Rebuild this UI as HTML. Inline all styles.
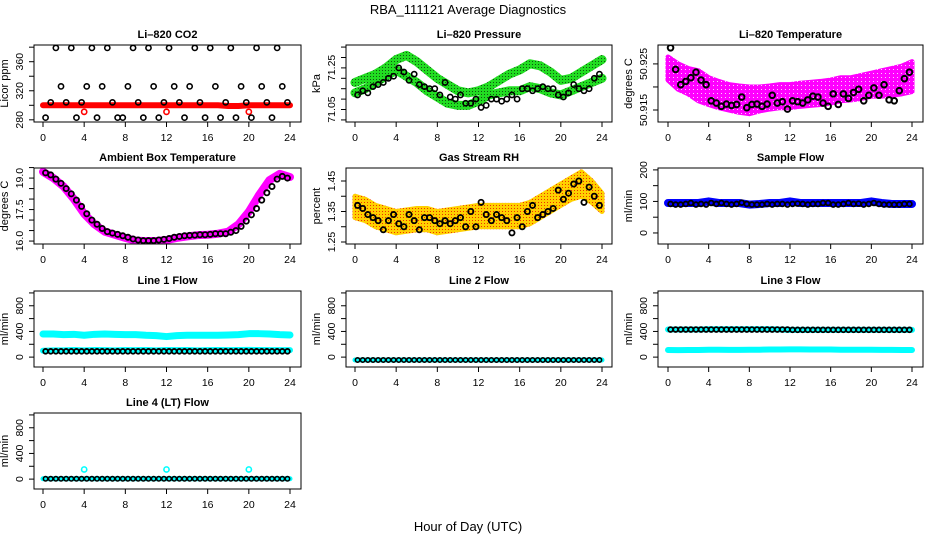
<!DOCTYPE html>
<html><head><meta charset="utf-8">
<style>
html,body{margin:0;padding:0;background:#fff;}
svg{display:block;font-family:"Liberation Sans",Arial,sans-serif;}
</style></head>
<body>
<svg id="chart" width="936" height="540" viewBox="0 0 936 540">
<defs>
<pattern id="pGreen" width="3" height="3" patternUnits="userSpaceOnUse"><rect width="3" height="3" fill="#22dd22"/><rect x="1" y="1" width="1" height="1" fill="#115511"/></pattern>
<pattern id="pOrange" width="3" height="3" patternUnits="userSpaceOnUse"><rect width="3" height="3" fill="#ffd000"/><rect x="1" y="1" width="1" height="1" fill="#ee3300"/></pattern>
<pattern id="pMag" width="4" height="4" patternUnits="userSpaceOnUse"><rect width="4" height="4" fill="#ff00ff"/><rect x="1" y="1" width="1" height="1" fill="#ffccff"/></pattern>
</defs>
<text x="468" y="14" text-anchor="middle" font-size="13">RBA_111121  Average Diagnostics</text>
<text x="468" y="531" text-anchor="middle" font-size="13">Hour of Day (UTC)</text>
</svg>
<script>
// ---------- data ----------
const hours = [0,1,2,3,4,5,6,7,8,9,10,11,12,13,14,15,16,17,18,19,20,21,22,23,24];
const halfHours = [0.25,0.75,1.25,1.75,2.25,2.75,3.25,3.75,4.25,4.75,5.25,5.75,6.25,6.75,7.25,7.75,8.25,8.75,9.25,9.75,10.25,10.75,11.25,11.75,12.25,12.75,13.25,13.75,14.25,14.75,15.25,15.75,16.25,16.75,17.25,17.75,18.25,18.75,19.25,19.75,20.25,20.75,21.25,21.75,22.25,22.75,23.25,23.75];
const xTicks = [0,4,8,12,16,20,24];

const co2Red = [300,300,300,300,300,300,300,300,300,300,300,300,300,300,300,300,300,300,299,299,300,300,300,300,300];
const co2RedOutHours = [4,12,20];
const co2RedOut = [291,291,291];
const co2Black = [283,304,379,326,304,379,283,304,326,379,283,326,379,304,283,283,326,379,304,283,379,326,283,304,379,326,304,283,326,379,304,283,379,326,283,304,379,283,326,304,283,379,326,304,283,379,326,304];

const presUpper = [71.18,71.2,71.22,71.25,71.29,71.31,71.28,71.24,71.2,71.17,71.14,71.13,71.14,71.16,71.19,71.22,71.24,71.27,71.26,71.23,71.19,71.2,71.23,71.26,71.29];
const presLower = [71.13,71.15,71.18,71.21,71.24,71.21,71.18,71.14,71.11,71.08,71.07,71.07,71.09,71.12,71.13,71.14,71.14,71.16,71.15,71.13,71.12,71.14,71.16,71.18,71.2];
const presBlack = [71.12,71.14,71.13,71.16,71.17,71.18,71.2,71.21,71.25,71.23,71.19,71.22,71.17,71.16,71.15,71.15,71.12,71.18,71.11,71.1,71.12,71.08,71.08,71.1,71.06,71.07,71.1,71.1,71.09,71.1,71.12,71.1,71.15,71.15,71.14,71.15,71.16,71.15,71.15,71.12,71.11,71.13,71.17,71.15,71.14,71.15,71.2,71.22];

const tempLo = [50.9215,50.9195,50.9185,50.917,50.9162,50.9155,50.915,50.9145,50.9142,50.9148,50.9152,50.9155,50.9155,50.9158,50.916,50.9162,50.9165,50.917,50.9172,50.9175,50.918,50.918,50.9182,50.9185,50.919];
const tempHi = [50.9265,50.925,50.924,50.9235,50.922,50.9212,50.9205,50.9202,50.92,50.92,50.9202,50.9205,50.9205,50.9208,50.921,50.9212,50.9215,50.922,50.922,50.9225,50.923,50.9235,50.924,50.9245,50.9255];
const tempBlack = [50.9285,50.9238,50.9205,50.9212,50.922,50.9232,50.9215,50.9205,50.917,50.9165,50.9158,50.9163,50.916,50.9162,50.9178,50.9155,50.9162,50.9163,50.9158,50.9163,50.9182,50.9165,50.9168,50.9152,50.917,50.9168,50.9165,50.9172,50.918,50.9178,50.9165,50.9158,50.9185,50.9162,50.9185,50.9175,50.9188,50.9195,50.917,50.9182,50.9198,50.9182,50.9205,50.9172,50.917,50.9192,50.9218,50.9232];

const ambBand = [19.3,19.0,18.6,18.0,17.3,16.8,16.45,16.3,16.15,16.02,16.0,16.0,16.05,16.15,16.22,16.28,16.3,16.35,16.45,16.8,17.4,18.2,18.9,19.2,19.05];
const ambBlack = [19.25,19.15,18.95,18.75,18.5,18.25,17.95,17.65,17.3,17.0,16.8,16.6,16.45,16.38,16.32,16.25,16.18,16.1,16.05,16.02,16.02,16.02,16.05,16.08,16.12,16.18,16.22,16.25,16.27,16.28,16.3,16.3,16.32,16.35,16.35,16.35,16.42,16.5,16.7,16.95,17.25,17.55,17.95,18.3,18.6,18.95,19.08,19.0];

const rhLo = [1.33,1.32,1.30,1.29,1.28,1.285,1.29,1.29,1.28,1.285,1.29,1.295,1.30,1.30,1.30,1.30,1.30,1.31,1.33,1.35,1.37,1.39,1.40,1.38,1.35];
const rhHi = [1.40,1.39,1.37,1.36,1.35,1.355,1.36,1.36,1.35,1.355,1.36,1.365,1.37,1.37,1.37,1.37,1.37,1.38,1.40,1.42,1.44,1.46,1.48,1.45,1.41];
const rhBlack = [1.37,1.36,1.34,1.33,1.32,1.29,1.32,1.34,1.31,1.3,1.34,1.32,1.29,1.33,1.33,1.32,1.31,1.32,1.31,1.32,1.33,1.3,1.35,1.3,1.38,1.34,1.32,1.34,1.33,1.32,1.28,1.33,1.3,1.35,1.37,1.33,1.34,1.35,1.36,1.42,1.39,1.41,1.44,1.45,1.38,1.43,1.4,1.37];

const sfBand = [95,95,95,95,100,95,95,95,90,92,95,95,100,95,95,95,95,95,95,95,100,95,92,92,92];
const sfBlack = [92,90,90,92,95,90,92,90,95,92,95,92,90,92,96,92,90,90,90,92,90,92,92,90,92,93,92,90,92,92,95,95,90,90,92,95,92,93,90,92,95,92,90,90,90,90,92,92];

const l1CyanHi = [360,360,350,355,340,355,360,355,350,350,340,335,320,335,340,340,340,340,345,350,365,365,360,350,345];
const l1CyanLo = [100,105,105,110,105,110,108,105,110,108,110,105,110,108,110,105,108,110,108,110,112,110,108,108,108];
const l1Black = [90,90,90,90,90,90,90,90,90,90,90,90,90,90,90,90,90,90,90,90,90,90,90,90,90,90,90,90,90,90,90,90,90,90,90,90,90,90,90,90,90,90,90,90,90,90,90,90];

const l2Cyan = [-45,-45,-45,-45,-45,-45,-45,-45,-45,-45,-45,-45,-45,-45,-45,-45,-45,-45,-45,-45,-45,-45,-45,-45,-45];
const l2Black = [-45,-45,-45,-45,-45,-45,-45,-45,-45,-45,-45,-45,-45,-45,-45,-45,-45,-45,-45,-45,-45,-45,-45,-45,-45,-45,-45,-45,-45,-45,-45,-45,-45,-45,-45,-45,-45,-45,-45,-45,-45,-45,-45,-45,-45,-45,-45,-45];

const l3CyanHi = [430,430,430,430,435,435,435,435,435,435,435,430,425,425,425,425,425,425,425,425,425,425,425,425,425];
const l3CyanLo = [110,108,110,110,115,115,112,112,115,115,118,118,120,120,118,118,118,115,115,115,115,112,112,110,110];
const l3Black = [430,430,430,430,430,430,430,430,430,430,430,430,430,430,430,430,430,430,430,430,430,430,430,430,425,425,425,425,425,425,425,425,425,425,425,425,425,425,425,425,425,425,425,425,425,425,425,425];

const l4Cyan = [5,5,5,5,5,5,5,5,5,5,5,5,5,5,5,5,5,5,5,5,5,5,5,5,5];
const l4SpikeHours = [4,12,20];
const l4Spike = [150,150,150];
const l4Black = [5,5,5,5,5,5,5,5,5,5,5,5,5,5,5,5,5,5,5,5,5,5,5,5,5,5,5,5,5,5,5,5,5,5,5,5,5,5,5,5,5,5,5,5,5,5,5,5];

// ---------- layout ----------
const NS = "http://www.w3.org/2000/svg";
const svg = document.getElementById('chart');
const cols = [{l:34,r:301,x0:43,x24:290},{l:346,r:612,x0:355,x24:602},{l:658,r:923,x0:668,x24:912}];
const rows = [{t:45,b:122},{t:168,b:244},{t:291,b:367},{t:413,b:489}];

function el(tag, attrs, parent){
  const e = document.createElementNS(NS, tag);
  for (const k in attrs) e.setAttribute(k, attrs[k]);
  (parent||svg).appendChild(e);
  return e;
}

function makePanel(slug, col, row, title, ylab, yMin, yMax, yTicks, yLabels){
  const c = cols[col], r = rows[row];
  const g = el('g', {});
  
  
  const sx = h => c.x0 + (h/24)*(c.x24 - c.x0);
  const sy = v => r.b - (v - yMin)/(yMax - yMin)*(r.b - r.t);
  const clip = el('clipPath', {id:'clip-'+slug}, g);
  el('rect', {x:c.l, y:r.t, width:c.r-c.l, height:r.b-r.t}, clip);
  const plot = el('g', {'clip-path':'url(#clip-'+slug+')'}, g);
  
  
  const box = el('rect', {x:c.l, y:r.t, width:c.r-c.l, height:r.b-r.t, fill:'none', stroke:'#000', 'stroke-width':1}, g);
  
  
  const t = el('text', {x:(c.l+c.r)/2, y:r.t-7, 'text-anchor':'middle', 'font-size':11, 'font-weight':'bold'}, g);
  t.textContent = title;
  
  
  const yl = el('text', {x:0, y:0, 'text-anchor':'middle', 'font-size':11, transform:'translate('+(c.l-26)+','+((r.t+r.b)/2)+') rotate(-90)'}, g);
  yl.textContent = ylab;
  
  
  const xa = el('g', {}, g);
  
  
  el('line', {x1:sx(0), x2:sx(24), y1:r.b, y2:r.b, stroke:'#000'}, xa);
  xTicks.forEach(h => {
    el('line', {x1:sx(h), x2:sx(h), y1:r.b, y2:r.b+5, stroke:'#000'}, xa);
    const tl = el('text', {x:sx(h), y:r.b+19, 'text-anchor':'middle', 'font-size':10.5}, xa);
    tl.textContent = h;
    
    
  });
  const ya = el('g', {}, g);
  
  
  el('line', {x1:c.l, x2:c.l, y1:sy(yTicks[0]), y2:sy(yTicks[yTicks.length-1]), stroke:'#000'}, ya);
  yTicks.forEach((v,i) => {
    el('line', {x1:c.l-5, x2:c.l, y1:sy(v), y2:sy(v), stroke:'#000'}, ya);
    if (yLabels[i] !== '') {
      const tl = el('text', {x:0, y:0, 'text-anchor':'middle', 'font-size':10.5, transform:'translate('+(c.l-11)+','+sy(v)+') rotate(-90)'}, ya);
      tl.textContent = yLabels[i];
      
      
    }
  });
  return {plot, sx, sy};
}

function band(p, xs, lo, hi, fill, name){
  let d = '';
  xs.forEach((h,i) => { d += (i ? 'L' : 'M') + p.sx(h) + ' ' + p.sy(hi[i]); });
  for (let i = xs.length-1; i >= 0; i--) d += 'L' + p.sx(xs[i]) + ' ' + p.sy(lo[i]);
  const e = el('path', {d: d+'Z', fill: fill, stroke: fill, 'stroke-width':5, 'stroke-linejoin':'round'}, p.plot);
  
  
}
function thickLine(p, xs, ys, color, w, name){
  const pts = xs.map((h,i) => p.sx(h) + ',' + p.sy(ys[i])).join(' ');
  const e = el('polyline', {points: pts, fill:'none', stroke: color, 'stroke-width': w, 'stroke-linejoin':'round', 'stroke-linecap':'round'}, p.plot);
  
  
}
function points(p, xs, ys, color, name, r, sw){
  const g = el('g', {}, p.plot);
  
  
  xs.forEach((h,i) => {
    const c = el('circle', {cx:p.sx(h), cy:p.sy(ys[i]), r:r||2.6, fill:'none', stroke:color, 'stroke-width':sw||1.6}, g);
    
    
  });
}

let p = makePanel('co2', 0, 0, 'Li\u2013820 CO2', 'Licor ppm', 277, 383, [280,300,320,340,360,380], ['280','','320','','360','']);
thickLine(p, hours, co2Red, '#ff0000', 6, 'co2-red-series');
points(p, co2RedOutHours, co2RedOut, '#ff0000', 'co2-red-outliers');
points(p, halfHours, co2Black, '#000', 'co2-black-series');

p = makePanel('pressure', 1, 0, 'Li\u2013820 Pressure', 'kPa', 70.99, 71.36, [71.0,71.05,71.1,71.15,71.2,71.25,71.3,71.35], ['','71.05','','','','71.25','','']);
thickLine(p, hours, presUpper, 'url(#pGreen)', 9, 'pressure-green-upper');
thickLine(p, hours, presLower, 'url(#pGreen)', 9, 'pressure-green-lower');
points(p, halfHours, presBlack, '#000', 'pressure-black-series');

p = makePanel('li820-temp', 2, 0, 'Li\u2013820 Temperature', 'degrees C', 50.9124, 50.9291, [50.915,50.92,50.925], ['50.915','','50.925']);
band(p, hours, tempLo, tempHi, 'url(#pMag)', 'li820-temp-magenta-band');
points(p, halfHours, tempBlack, '#000', 'li820-temp-black-series', 2.8, 2);

p = makePanel('ambient-temp', 0, 1, 'Ambient Box Temperature', 'degrees C', 15.86, 19.48, [16,16.5,17,17.5,18,18.5,19,19.5], ['16.0','','','17.5','','','19.0','']);
thickLine(p, hours, ambBand, '#ff00ff', 8, 'ambient-temp-magenta-series');
points(p, halfHours, ambBlack, '#000', 'ambient-temp-black-series', 2.6, 1.8);

p = makePanel('gas-rh', 1, 1, 'Gas Stream RH', 'percent', 1.2434, 1.4926, [1.25,1.3,1.35,1.4,1.45], ['1.25','','1.35','','1.45']);
band(p, hours, rhLo, rhHi, 'url(#pOrange)', 'gas-rh-orange-band');
points(p, halfHours, rhBlack, '#000', 'gas-rh-black-series', 2.6, 1.8);

p = makePanel('sample-flow', 2, 1, 'Sample Flow', 'ml/min', -35, 206, [0,50,100,150,200], ['0','','100','','200']);
thickLine(p, hours, sfBand, '#0000ff', 8, 'sample-flow-blue-series');
points(p, halfHours, sfBlack, '#000', 'sample-flow-black-series', 2.4, 1.8);

const flowTicks = [0,200,400,600,800,1000];
const flowLabels = ['0','','400','','800',''];
p = makePanel('line1-flow', 0, 2, 'Line 1 Flow', 'ml/min', -154, 1030, flowTicks, flowLabels);
thickLine(p, hours, l1CyanHi, '#00ffff', 7, 'line1-cyan-high');
thickLine(p, hours, l1CyanLo, '#00ffff', 6, 'line1-cyan-low');
points(p, halfHours, l1Black, '#000', 'line1-black-series', 2.4, 1.8);

p = makePanel('line2-flow', 1, 2, 'Line 2 Flow', 'ml/min', -154, 1030, flowTicks, flowLabels);
thickLine(p, hours, l2Cyan, '#00ffff', 5, 'line2-cyan-series');
points(p, halfHours, l2Black, '#000', 'line2-black-series', 2.2, 1.6);

p = makePanel('line3-flow', 2, 2, 'Line 3 Flow', 'ml/min', -154, 1030, flowTicks, flowLabels);
thickLine(p, hours, l3CyanHi, '#00ffff', 6, 'line3-cyan-high');
thickLine(p, hours, l3CyanLo, '#00ffff', 6, 'line3-cyan-low');
points(p, halfHours, l3Black, '#000', 'line3-black-series', 2.4, 1.8);

p = makePanel('line4-flow', 0, 3, 'Line 4 (LT) Flow', 'ml/min', -154, 1030, flowTicks, flowLabels);
thickLine(p, hours, l4Cyan, '#00ffff', 5, 'line4-cyan-series');
points(p, l4SpikeHours, l4Spike, '#00ffff', 'line4-cyan-spikes');
points(p, halfHours, l4Black, '#000', 'line4-black-series', 2.2, 1.6);
</script>
</body></html>
